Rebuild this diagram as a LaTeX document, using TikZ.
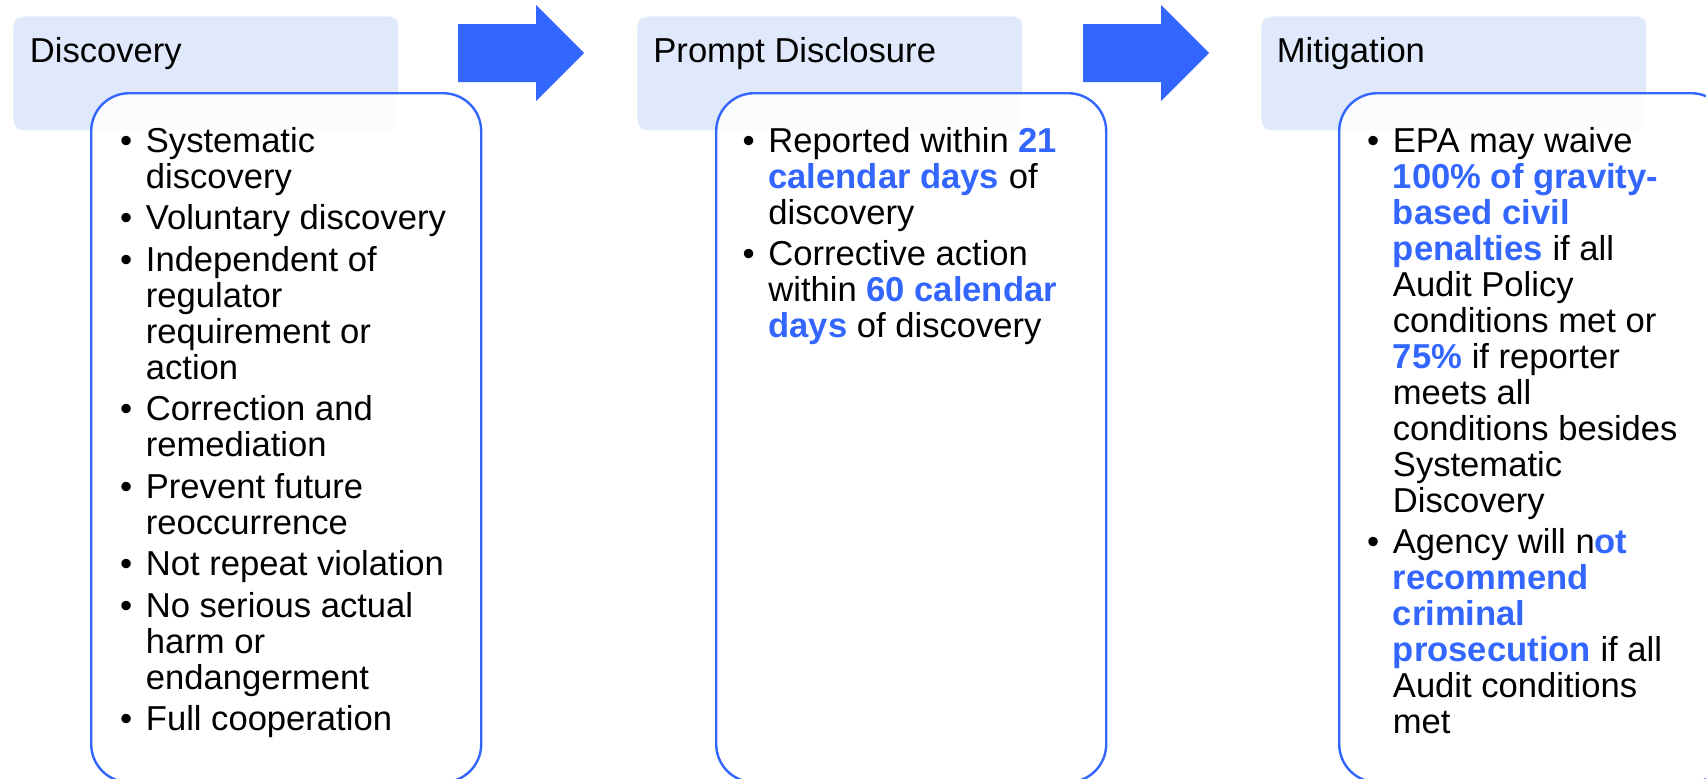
\documentclass[tikz,border=0pt]{standalone}
\usepackage{fontspec}
\setmainfont{Liberation Sans}
\definecolor{hdrfill}{HTML}{E0E8FC}
\definecolor{accent}{HTML}{3366FF}
\newcommand{\itembul}{\llap{\textbullet\hspace{6.8pt}}}
\newcommand{\hlt}[1]{\textcolor{accent}{\bfseries #1}}
\begin{document}
\begin{tikzpicture}[x=0.5pt,y=-0.5pt,
  header/.style={fill=hdrfill, draw=none, rounded corners=5pt, anchor=north west,
    minimum width=192.5pt, minimum height=57pt, inner sep=0},
  panel/.style={draw=accent, line width=1.2pt, fill=white, fill opacity=0.9,
    rounded corners=19pt, anchor=north west, minimum width=195pt, minimum height=344.5pt, inner sep=0},
  flowarrow/.style={fill=accent, draw=none},
  tl/.style={anchor=base west, inner sep=0, font=\fontsize{17.3}{20}\selectfont}]
\clip (0,0) rectangle (1706,778);
\fill[white] (0,0) rectangle (1706,778);
% headers
\node[header] (h1) at (13,16) {};
\node[header] (h2) at (637,16) {};
\node[header] (h3) at (1261,16) {};
% arrows
\fill[flowarrow] (458,24) -- (536,24) -- (536,5) -- (584,53) -- (536,101) -- (536,82) -- (458,82) -- cycle;
\fill[flowarrow] (1083,24) -- (1161,24) -- (1161,5) -- (1209,53) -- (1161,101) -- (1161,82) -- (1083,82) -- cycle;
% panels
\node[panel] (p1) at (90,92) {};
\node[panel] (p2) at (715,92) {};
\node[panel] (p3) at (1338,92) {};
% header titles
\node[tl] (t1) at (29.5,62) {Discovery};
\node[tl] (t2) at (653,62) {Prompt Disclosure};
\node[tl] (t3) at (1276.5,62) {Mitigation};
% panel 1 text
\node[tl] (a1) at (145.5,152) {\itembul Systematic};
\node[tl] (a2) at (145.5,188) {discovery};
\node[tl] (a3) at (145.5,229.5) {\itembul Voluntary discovery};
\node[tl] (a4) at (145.5,271) {\itembul Independent of};
\node[tl] (a5) at (145.5,307) {regulator};
\node[tl] (a6) at (145.5,343) {requirement or};
\node[tl] (a7) at (145.5,379) {action};
\node[tl] (a8) at (145.5,420.5) {\itembul Correction and};
\node[tl] (a9) at (145.5,456.5) {remediation};
\node[tl] (a10) at (145.5,498) {\itembul Prevent future};
\node[tl] (a11) at (145.5,534) {reoccurrence};
\node[tl] (a12) at (145.5,575.5) {\itembul Not repeat violation};
\node[tl] (a13) at (145.5,617) {\itembul No serious actual};
\node[tl] (a14) at (145.5,653) {harm or};
\node[tl] (a15) at (145.5,689) {endangerment};
\node[tl] (a16) at (145.5,730.5) {\itembul Full cooperation};
% panel 2 text
\node[tl] (b1) at (768,152) {\itembul Reported within \hlt{21}};
\node[tl] (b2) at (768,188) {\hlt{calendar days} of};
\node[tl] (b3) at (768,224) {discovery};
\node[tl] (b4) at (768,265.5) {\itembul Corrective action};
\node[tl] (b5) at (768,301.5) {within \hlt{60 calendar}};
\node[tl] (b6) at (768,337.5) {\hlt{days} of discovery};
% panel 3 text
\node[tl] (c1) at (1392.5,152) {\itembul EPA may waive};
\node[tl] (c2) at (1392.5,188) {\hlt{100\% of gravity-}};
\node[tl] (c3) at (1392.5,224) {\hlt{based civil}};
\node[tl] (c4) at (1392.5,260) {\hlt{penalties} if all};
\node[tl] (c5) at (1392.5,296) {Audit Policy};
\node[tl] (c6) at (1392.5,332) {conditions met or};
\node[tl] (c7) at (1392.5,368) {\hlt{75\%} if reporter};
\node[tl] (c8) at (1392.5,404) {meets all};
\node[tl] (c9) at (1392.5,440) {conditions besides};
\node[tl] (c10) at (1392.5,476) {Systematic};
\node[tl] (c11) at (1392.5,512) {Discovery};
\node[tl] (c12) at (1392.5,553.5) {\itembul Agency will n\hlt{ot}};
\node[tl] (c13) at (1392.5,589.5) {\hlt{recommend}};
\node[tl] (c14) at (1392.5,625.5) {\hlt{criminal}};
\node[tl] (c15) at (1392.5,661.5) {\hlt{prosecution} if all};
\node[tl] (c16) at (1392.5,697.5) {Audit conditions};
\node[tl] (c17) at (1392.5,733.5) {met};
\end{tikzpicture}
\end{document}
